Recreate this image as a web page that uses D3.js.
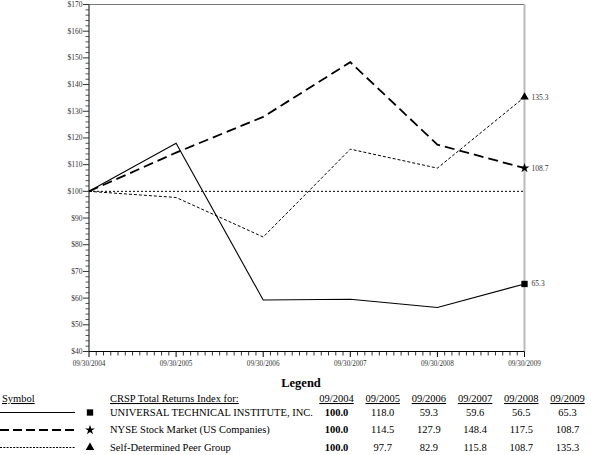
<!DOCTYPE html>
<html><head><meta charset="utf-8">
<script src="https://cdn.jsdelivr.net/npm/d3@7"></script>
<style>
body{margin:0;background:#fff;}
text{font-family:"Liberation Serif","Times New Roman",serif;}
</style></head>
<body><svg id="c" width="591" height="455"></svg>
<script>
const dates = ["09/30/2004","09/30/2005","09/30/2006","09/30/2007","09/30/2008","09/30/2009"];
const headers = ["09/2004","09/2005","09/2006","09/2007","09/2008","09/2009"];
const names = ["UNIVERSAL TECHNICAL INSTITUTE, INC.","NYSE Stock Market (US Companies)","Self-Determined Peer Group"];
const utiValues = [100.0,118.0,59.3,59.6,56.5,65.3];
const nyseValues = [100.0,114.5,127.9,148.4,117.5,108.7];
const peerValues = [100.0,97.7,82.9,115.8,108.7,135.3];
const yTicks = [40,50,60,70,80,90,100,110,120,130,140,150,160,170];

const series = [
  {name:names[0], values:utiValues, dash:null, width:1.1, symbol:d3.symbolSquare, size:40},
  {name:names[1], values:nyseValues, dash:"10,5", width:1.8, symbol:d3.symbolStar, size:30},
  {name:names[2], values:peerValues, dash:"3,2", width:1, symbol:d3.symbolTriangle, size:32}
];

const svg = d3.select("#c");
const x = d3.scalePoint().domain(d3.range(dates.length)).range([89,524.5]);
const y = d3.scaleLinear().domain([40,170]).range([351.5,4.5]);

// minor y ticks
const yMinor = d3.range(40,171,2).filter(v=>v%10!==0);
svg.append("g").selectAll("line").data(yMinor).join("line")
  .attr("x1",85.5).attr("x2",89).attr("y1",d=>y(d)).attr("y2",d=>y(d))
  .attr("stroke","#555").attr("stroke-width",1);
// major y ticks
svg.append("g").selectAll("line").data(yTicks).join("line")
  .attr("x1",83).attr("x2",89).attr("y1",d=>y(d)).attr("y2",d=>y(d))
  .attr("stroke","#333").attr("stroke-width",1);
svg.append("g").selectAll("text").data(yTicks).join("text")
  .attr("x",82.5).attr("y",d=>y(d)).attr("dy","0.33em")
  .attr("text-anchor","end").attr("font-size",7.5).attr("fill","#333")
  .text(d=>"$"+d);

// x minor ticks (monthly)
const xMonth = d3.scaleLinear().domain([0,60]).range([89,524.5]);
const months = d3.range(0,61).filter(m=>m%12!==0);
svg.append("g").selectAll("line").data(months).join("line")
  .attr("x1",d=>xMonth(d)).attr("x2",d=>xMonth(d)).attr("y1",351.5).attr("y2",355.5)
  .attr("stroke","#333").attr("stroke-width",1);
svg.append("g").selectAll("line").data(d3.range(dates.length)).join("line")
  .attr("x1",d=>x(d)).attr("x2",d=>x(d)).attr("y1",351.5).attr("y2",357)
  .attr("stroke","#000").attr("stroke-width",1);
svg.append("g").selectAll("text").data(dates).join("text")
  .attr("x",(d,i)=>x(i)).attr("y",366).attr("text-anchor","middle")
  .attr("font-size",7.2).attr("fill","#333").text(d=>d);

// frame
svg.append("line").attr("x1",89).attr("x2",524.5).attr("y1",y(170)).attr("y2",y(170)).attr("stroke","#777").attr("stroke-width",1.2);
svg.append("line").attr("x1",524.5).attr("x2",524.5).attr("y1",y(170)).attr("y2",y(40)).attr("stroke","#bbb").attr("stroke-width",2);
svg.append("line").attr("x1",89).attr("x2",89).attr("y1",y(170)).attr("y2",y(40)).attr("stroke","#333").attr("stroke-width",1.2);
svg.append("line").attr("x1",89).attr("x2",524.5).attr("y1",y(40)).attr("y2",y(40)).attr("stroke","#000").attr("stroke-width",1.2);

// baseline at $100
svg.append("line").attr("x1",89).attr("x2",524.5).attr("y1",y(100)).attr("y2",y(100))
  .attr("stroke","#000").attr("stroke-width",1).attr("stroke-dasharray","2,2");

const line = d3.line().x((d,i)=>x(i)).y(d=>y(d));
series.forEach(s=>{
  svg.append("path").attr("d",line(s.values)).attr("fill","none")
    .attr("stroke","#000").attr("stroke-width",s.width)
    .attr("stroke-dasharray",s.dash);
  const last = s.values[s.values.length-1];
  svg.append("path").attr("d",d3.symbol().type(s.symbol).size(s.size)())
    .attr("transform",`translate(${x(s.values.length-1)},${y(last)})`).attr("fill","#000");
  svg.append("text").attr("x",x(s.values.length-1)+7).attr("y",y(last)).attr("dy","0.33em")
    .attr("font-size",7.5).attr("fill","#333").text(last.toFixed(1));
});

// Legend
svg.append("text").attr("x",301).attr("y",387).attr("text-anchor","middle")
  .attr("font-size",12.5).attr("font-weight","bold").text("Legend");
svg.append("text").attr("x",2).attr("y",402).attr("font-size",10.5)
  .attr("text-decoration","underline").text("Symbol");
svg.append("text").attr("x",110).attr("y",402).attr("font-size",10.5)
  .attr("text-decoration","underline").text("CRSP Total Returns Index for:");
const cx = d3.scalePoint().domain(headers).range([336.5,567.5]);
svg.append("g").selectAll("text").data(headers).join("text")
  .attr("x",d=>cx(d)).attr("y",402).attr("text-anchor","middle").attr("font-size",10.5)
  .attr("text-decoration","underline").text(d=>d);

const rowY = [415.5,433,450.5];
series.forEach((s,r)=>{
  const ly = rowY[r]-3;
  svg.append("line").attr("x1",0).attr("x2",75).attr("y1",ly).attr("y2",ly)
    .attr("stroke","#000").attr("stroke-width",r===1?2.2:1)
    .attr("stroke-dasharray",r===1?"9,4":(r===2?"2,1.3":null));
  svg.append("path").attr("d",d3.symbol().type(s.symbol).size(s.size)())
    .attr("transform",`translate(90,${ly})`).attr("fill","#000");
  svg.append("text").attr("x",110).attr("y",rowY[r]).attr("font-size",10.5).text(s.name);
  svg.append("g").selectAll("text").data(s.values).join("text")
    .attr("x",(d,i)=>cx(headers[i])).attr("y",rowY[r]).attr("text-anchor","middle")
    .attr("font-size",10.5).attr("font-weight",(d,i)=>i===0?"bold":"normal")
    .text(d=>d.toFixed(1));
});
</script></body></html>
